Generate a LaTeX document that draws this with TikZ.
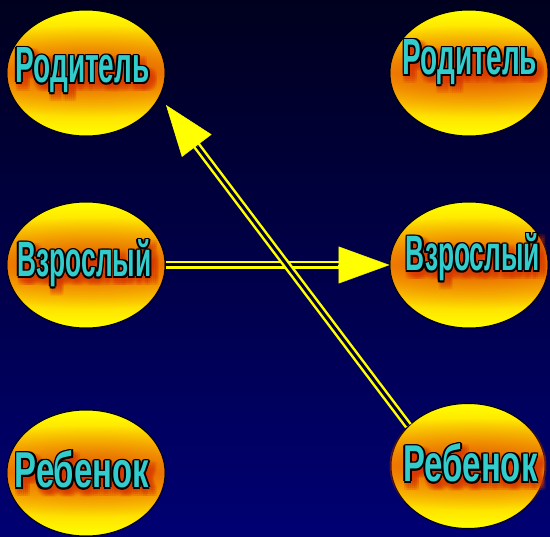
\documentclass[tikz,border=0pt]{standalone}
\usepackage{graphicx}
\usepackage{fontspec}
\setmainfont{Liberation Sans}
\usetikzlibrary{shapes.geometric,arrows.meta,calc,fadings}

\definecolor{skytop}{RGB}{0,0,30}
\definecolor{skybot}{RGB}{0,0,115}
\definecolor{egg}{RGB}{255,255,0}
\definecolor{yolk}{RGB}{255,165,0}
\definecolor{burn}{RGB}{215,55,0}
\definecolor{letter}{RGB}{51,204,204}
\definecolor{gapcol}{RGB}{0,0,60}

\tikzfading[name=glowfade, inner color=transparent!0, outer color=transparent!100]

\tikzset{
  role/.style={ellipse, draw=black, line width=1pt, minimum width=158pt,
    minimum height=126pt, inner sep=0pt, top color=egg, bottom color=egg,
    middle color=yolk},
  word/.style={anchor=base, inner sep=0pt, text=letter},
  wire/.style={draw=egg, double=gapcol, double distance=3pt, line width=2.5pt},
  headtip/.style={egg, line width=0.5pt, -{Triangle[length=51pt,width=37pt]}}
}

% name, position, height, text
\newcommand{\roleword}[4]{%
  \foreach \dx in {-1,1,3,5,7,9}
    \foreach \dy in {1,3,5,7,9}
      \node[word, text=burn, opacity=0.12, xshift=\dx pt, yshift=-\dy pt] at (#2)
        {\resizebox{134pt}{#3pt}{\bfseries #4}};
  \foreach \a in {0,45,...,315}
    \node[word, text=black, shift={(\a:1.7pt)}] at (#2)
      {\resizebox{134pt}{#3pt}{\bfseries #4}};
  \node[word] (#1) at (#2) {\resizebox{134pt}{#3pt}{\bfseries #4}};
}

\begin{document}
\begin{tikzpicture}[x=1pt,y=-1pt]
\useasboundingbox (0,0) rectangle (550,537);
\shade[top color=skytop, bottom color=skybot] (0,0) rectangle (550,537);

% the six roles
\node[role] (lt) at (86,73) {};
\node[role] (lm) at (86,265) {};
\node[role] (lb) at (86,473) {};
\node[role] (rt) at (469,73) {};
\node[role] (rm) at (469,265) {};
\node[role, minimum width=154pt, minimum height=125pt] (rb) at (468,466) {};

% glow behind the words
\foreach \cx/\cy in {86/73, 86/265, 86/473, 469/73, 469/265, 468/466} {
  \begin{scope}
    \clip (\cx,\cy) ellipse [x radius=78.5pt, y radius=62.5pt];
    \fill[burn, fill opacity=0.75, path fading=glowfade, fit fading=true]
      (\cx+5,\cy-2) ellipse [x radius=175pt, y radius=46pt];
  \end{scope}
}

% transactions
\coordinate (lthead) at (166,105);
\draw[wire, shorten >=50pt] (lm.east) -- (rm.west);
\draw[headtip] ($(rm.west)!52pt!(lm.east)$) -- (rm.west);
\draw[wire, shorten >=50pt] (rb.146) -- (lthead);
\draw[headtip] ($(lthead)!52pt!(rb.146)$) -- (lthead);

% labels
\roleword{ltw}{82.5,83}{35}{Родитель}
\roleword{rtw}{470,75}{35}{Родитель}
\roleword{lmw}{84.5,277}{37}{Взрослый}
\roleword{rmw}{473,271}{37}{Взрослый}
\roleword{lbw}{82,488}{37}{Ребенок}
\roleword{rbw}{470.5,482}{38}{Ребенок}
\end{tikzpicture}
\end{document}
